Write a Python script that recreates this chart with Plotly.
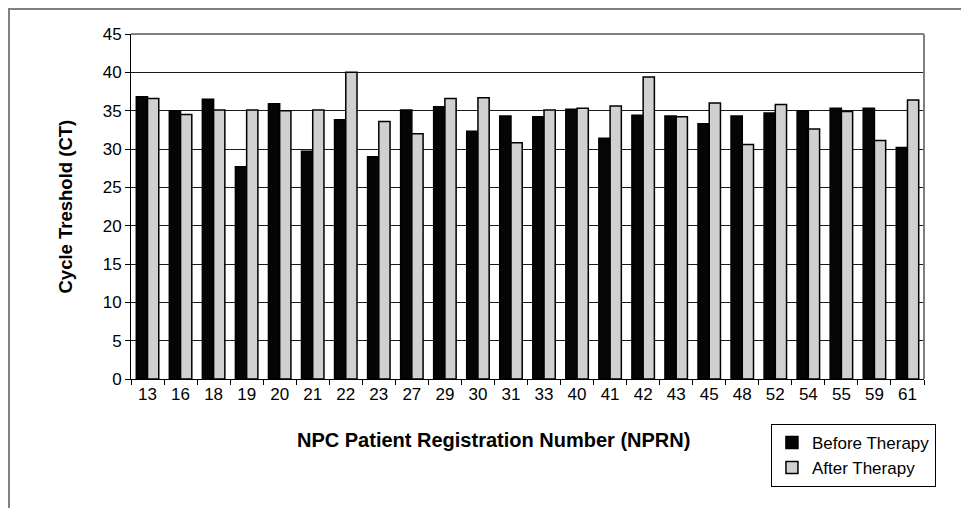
import plotly.graph_objects as go

categories = ["13", "16", "18", "19", "20", "21", "22", "23", "27", "29", "30", "31",
              "33", "40", "41", "42", "43", "45", "48", "52", "54", "55", "59", "61"]
before_therapy = [36.8, 35.0, 36.5, 27.7, 35.9, 29.7, 33.8, 29.0, 35.1, 35.5, 32.3, 34.3,
                  34.2, 35.2, 31.4, 34.4, 34.3, 33.3, 34.3, 34.7, 35.0, 35.3, 35.3, 30.2]
after_therapy = [36.6, 34.5, 35.1, 35.1, 35.0, 35.1, 40.0, 33.6, 32.0, 36.6, 36.7, 30.8,
                 35.1, 35.3, 35.6, 39.4, 34.2, 36.0, 30.6, 35.8, 32.6, 34.9, 31.1, 36.4]

FONT = "Liberation Sans, Arial, sans-serif"

fig = go.Figure()
fig.add_trace(go.Bar(x=categories, y=before_therapy, name="Before Therapy",
                     marker=dict(color="#050505", line=dict(color="#000000", width=1.5))))
fig.add_trace(go.Bar(x=categories, y=after_therapy, name="After Therapy",
                     marker=dict(color="#d0d0d0", line=dict(color="#000000", width=1.5))))

fig.update_layout(
    width=961, height=508,
    margin=dict(l=131, r=37, t=34, b=129),
    paper_bgcolor="white", plot_bgcolor="white",
    font=dict(family=FONT, size=17, color="#000000"),
    barmode="group", bargap=0.32, bargroupgap=0,
    showlegend=True,
    legend=dict(x=0.807, y=-0.13, xanchor="left", yanchor="top",
                bordercolor="#000000", borderwidth=1, bgcolor="white",
                font=dict(family=FONT, size=17), itemwidth=30,
                tracegroupgap=0),
    xaxis=dict(type="category", showline=True, linecolor="#000000", linewidth=1,
               ticks="outside", tickson="boundaries", ticklen=5, tickcolor="#000000",
               tickfont=dict(family=FONT, size=17), showgrid=False, zeroline=False),
    yaxis=dict(range=[0, 45], dtick=5, tick0=0, showline=True, linecolor="#000000",
               linewidth=1, ticks="outside", ticklen=5, tickcolor="#000000",
               tickfont=dict(family=FONT, size=17), showgrid=True,
               gridcolor="#1a1a1a", gridwidth=1, zeroline=False),
    annotations=[
        dict(text="<b>Cycle Treshold (CT)</b>", xref="paper", yref="paper",
             x=(65 - 131) / 793, y=0.5, textangle=-90, showarrow=False,
             xanchor="center", yanchor="middle", font=dict(family=FONT, size=18.5)),
        dict(text="<b>NPC Patient Registration Number (NPRN)</b>", xref="paper", yref="paper",
             x=(493 - 131) / 793, y=(379 - 440) / 345, showarrow=False,
             xanchor="center", yanchor="middle", font=dict(family=FONT, size=20)),
    ],
    shapes=[
        # outer chart frame
        dict(type="rect", xref="paper", yref="paper",
             x0=(9 - 131) / 793, x1=1.2, y0=-0.6, y1=1 + (34 - 9) / 345,
             line=dict(color="#808080", width=2), layer="below"),
        # plot area top and right borders
        dict(type="line", xref="paper", yref="paper", x0=0, x1=1, y0=1, y1=1,
             line=dict(color="#808080", width=2)),
        dict(type="line", xref="paper", yref="paper", x0=1, x1=1, y0=0, y1=1,
             line=dict(color="#808080", width=2)),
    ],
)

fig.write_html("out.html", config={"displayModeBar": False},
               post_script="document.body.style.margin='0';document.body.style.padding='0';")
